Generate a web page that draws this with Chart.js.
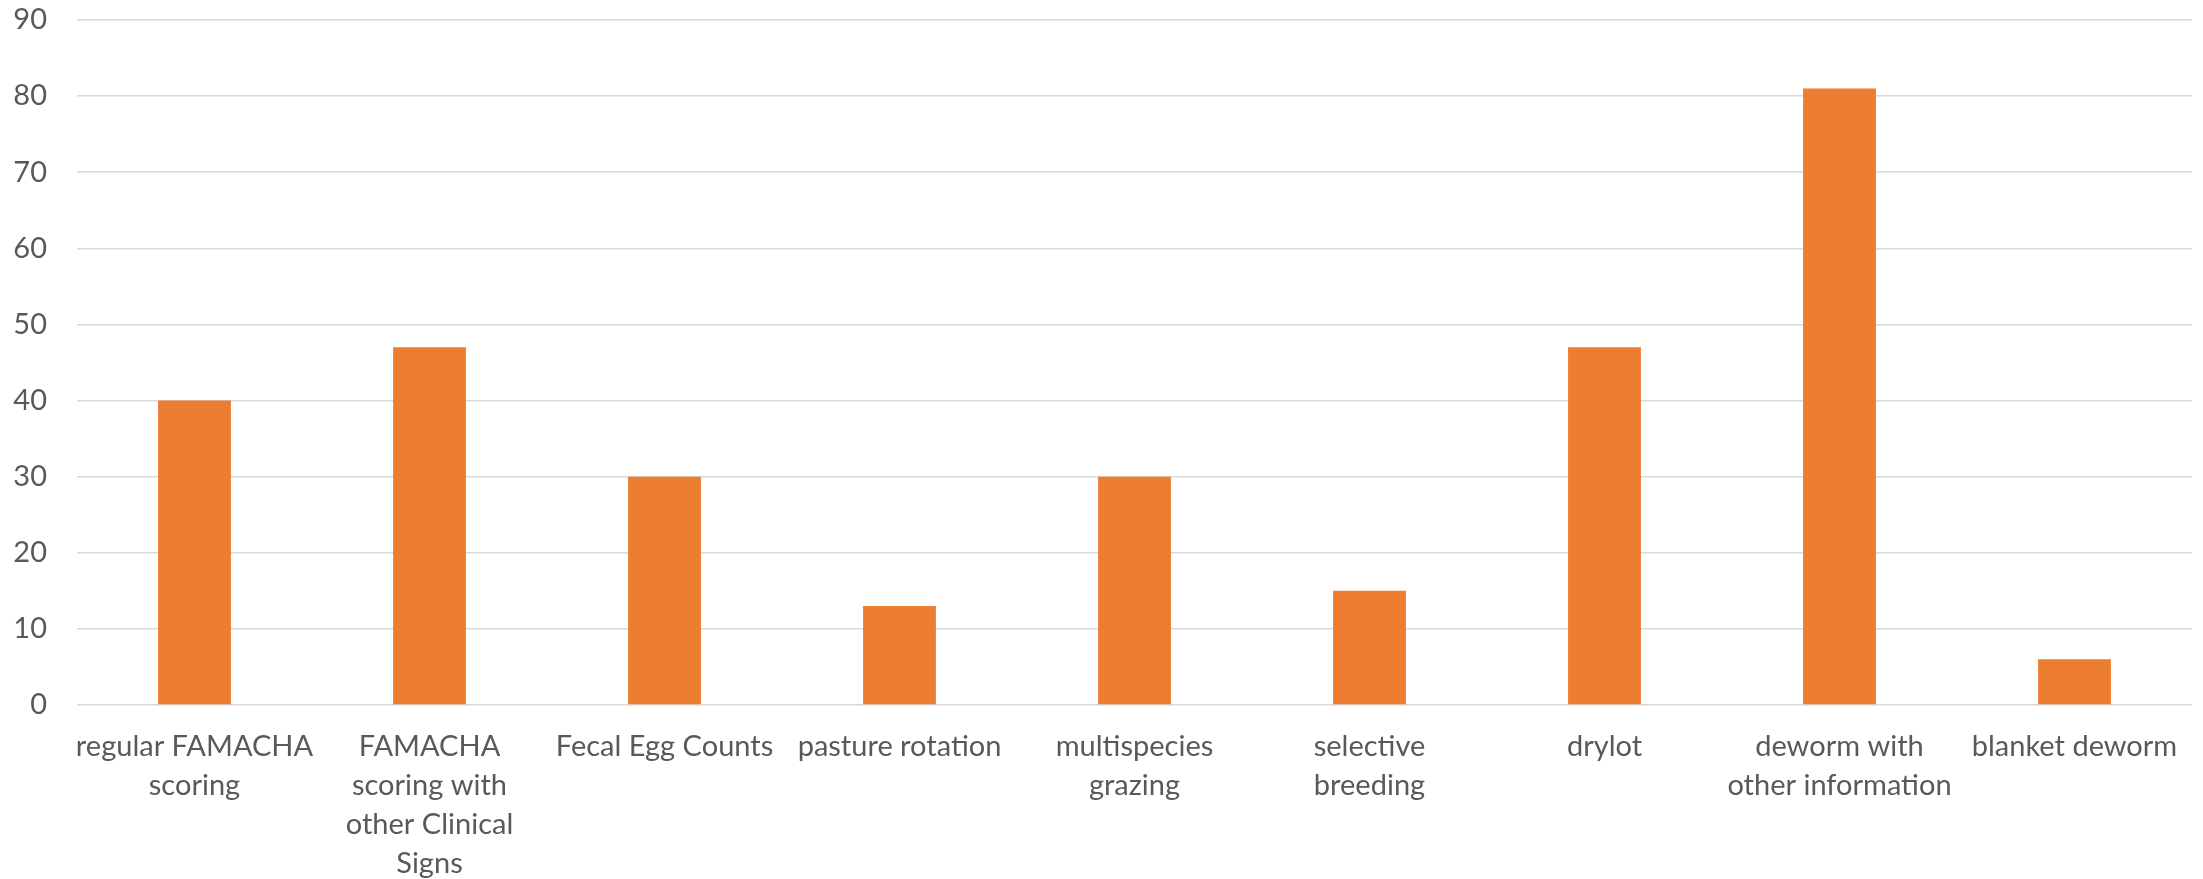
<!DOCTYPE html>
<html>
<head>
<meta charset="utf-8">
<script src="https://cdn.jsdelivr.net/npm/chart.js@4/dist/chart.umd.min.js"></script>
<style>
  html, body { margin: 0; padding: 0; background: #ffffff; }
  #wrap { width: 2203px; height: 879px; }
</style>
</head>
<body>
<div id="wrap"><canvas id="c" width="2203" height="879"></canvas></div>
<script>
// Parasite control practices and number of respondents using each
const categories = [
  ["regular FAMACHA", "scoring"],
  ["FAMACHA", "scoring with", "other Clinical", "Signs"],
  "Fecal Egg Counts",
  "pasture rotation",
  ["multispecies", "grazing"],
  ["selective", "breeding"],
  "drylot",
  ["deworm with", "other information"],
  "blanket deworm"
];
const respondents = [40, 47, 30, 13, 30, 15, 47, 81, 6];
const yTicks = [0, 10, 20, 30, 40, 50, 60, 70, 80, 90];

const textColor = "#595959";
const gridColor = "#d9d9d9";

new Chart(document.getElementById("c"), {
  type: "bar",
  data: {
    labels: categories,
    datasets: [{
      label: "Respondents",
      data: respondents,
      backgroundColor: "#ED7D31",
      borderWidth: 0,
      barPercentage: 0.31,
      categoryPercentage: 1.0
    }]
  },
  options: {
    responsive: false,
    devicePixelRatio: 1,
    animation: false,
    layout: { padding: { top: 20, right: 11, left: 0, bottom: 0 } },
    plugins: {
      legend: { display: false },
      tooltip: { enabled: false }
    },
    scales: {
      x: {
        grid: { display: false },
        border: { display: false },
        ticks: {
          color: textColor,
          font: { family: "Lato", size: 29, lineHeight: 1.35 },
          padding: 14,
          maxRotation: 0,
          autoSkip: false
        },
        afterFit: (s) => { s.height = 174; s.paddingLeft = 0; s.paddingRight = 0; }
      },
      y: {
        min: 0,
        max: 90,
        afterBuildTicks: (s) => { s.ticks = yTicks.map(v => ({ value: v })); },
        grid: { color: gridColor, lineWidth: 1.6, drawTicks: false },
        border: { display: false },
        ticks: {
          color: textColor,
          font: { family: "Lato", size: 29 },
          padding: 30
        },
        afterFit: (s) => { s.width = 77; s.paddingTop = 0; s.paddingBottom = 0; }
      }
    }
  }
});
</script>
</body>
</html>
